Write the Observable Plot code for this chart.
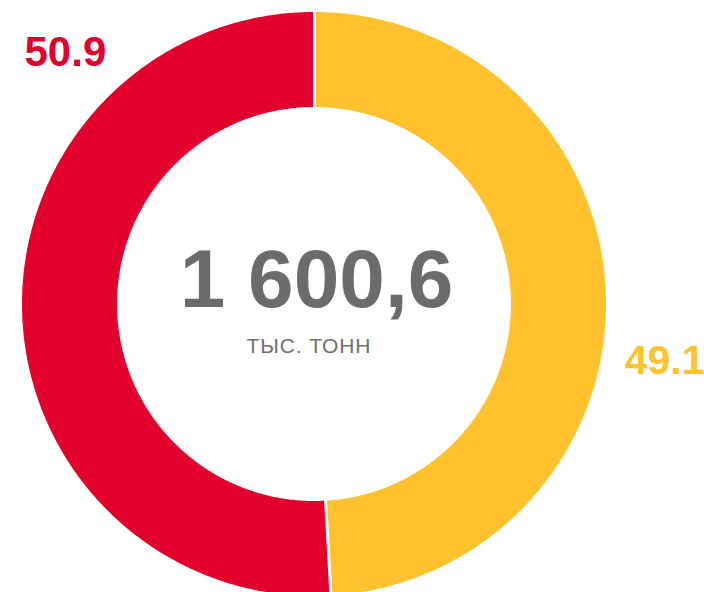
<!DOCTYPE html>
<html>
<head>
<meta charset="utf-8">
<script src="https://cdn.jsdelivr.net/npm/d3@7"></script>
<script src="https://cdn.jsdelivr.net/npm/@observablehq/plot@0.6"></script>
<style>
  html, body { margin: 0; padding: 0; background: #ffffff; }
  #chart svg { display: block; }
</style>
</head>
<body>
<div id="chart"></div>
<script>
// ---- Data ----
const sliceNames = ["Доля 1", "Доля 2"];
const shares = [49.1, 50.9];           // clockwise from 12 o'clock
const shareLabels = ["49.1", "50.9"];
const sliceColors = ["#FEC22F", "#E2002C"];
const totalLabel = "1 600,6";
const unitLabel = "ТЫС. ТОНН";

// ---- Geometry (layout) ----
const W = 704, H = 592;
const cx = 314, cy = 304, R = 292;     // pixels
const rOuter = 1, rInner = 197 / 292;
const ux = px => (px - cx) / R;
const uy = py => (cy - py) / R;

const total = d3.sum(shares);
let acc = 0;
const ring = [];
const slices = shares.map((v, i) => {
  const a0 = acc / total * 2 * Math.PI;
  acc += v;
  const a1 = acc / total * 2 * Math.PI;
  const n = Math.max(2, Math.ceil((a1 - a0) / (Math.PI / 360)));
  for (let k = 0; k <= n; k++) {
    const a = a0 + (a1 - a0) * k / n;
    ring.push({
      name: sliceNames[i],
      x1: rInner * Math.sin(a), y1: rInner * Math.cos(a),
      x2: rOuter * Math.sin(a), y2: rOuter * Math.cos(a)
    });
  }
  return {name: sliceNames[i], a0, a1};
});
const separators = slices.map(s => ({
  x1: (rInner - 0.02) * Math.sin(s.a0), y1: (rInner - 0.02) * Math.cos(s.a0),
  x2: (rOuter + 0.02) * Math.sin(s.a0), y2: (rOuter + 0.02) * Math.cos(s.a0)
}));

const labels = [
  {text: shareLabels[0], x: ux(704), y: uy(373), color: sliceColors[0], anchor: "end"},
  {text: shareLabels[1], x: ux(24), y: uy(65), color: sliceColors[1], anchor: "start"}
];

const chart = Plot.plot({
  width: W,
  height: H,
  margin: 0,
  style: {fontFamily: "'Liberation Sans', Arial, sans-serif", background: "#ffffff"},
  x: {domain: [ux(0), ux(W)], axis: null},
  y: {domain: [uy(H), uy(0)], axis: null},
  color: {domain: sliceNames, range: sliceColors},
  marks: [
    Plot.area(ring, {x1: "x1", y1: "y1", x2: "x2", y2: "y2", z: "name", fill: "name"}),
    Plot.link(separators, {x1: "x1", y1: "y1", x2: "x2", y2: "y2", stroke: "#ffffff", strokeWidth: 3}),
    Plot.text(labels.filter(d => d.anchor === "end"), {x: "x", y: "y", text: "text", fill: d => d.color, fontSize: 41, fontWeight: "bold", textAnchor: "end", lineAnchor: "bottom"}),
    Plot.text(labels.filter(d => d.anchor === "start"), {x: "x", y: "y", text: "text", fill: d => d.color, fontSize: 42, fontWeight: "bold", textAnchor: "start", lineAnchor: "bottom"}),
    Plot.text([totalLabel], {x: ux(316), y: uy(306), text: d => d, fill: "#6b6b6b", fontSize: 82, fontWeight: "bold", textAnchor: "middle", lineAnchor: "bottom"}),
    Plot.text([unitLabel], {x: ux(246), y: uy(352), text: d => d, fill: "#707070", fontSize: 21, textAnchor: "start", lineAnchor: "bottom"})
  ]
});
d3.select(chart).selectAll("text").filter(function() { return this.textContent === unitLabel; })
  .attr("letter-spacing", "0.9px");
document.getElementById("chart").appendChild(chart);
</script>
</body>
</html>
